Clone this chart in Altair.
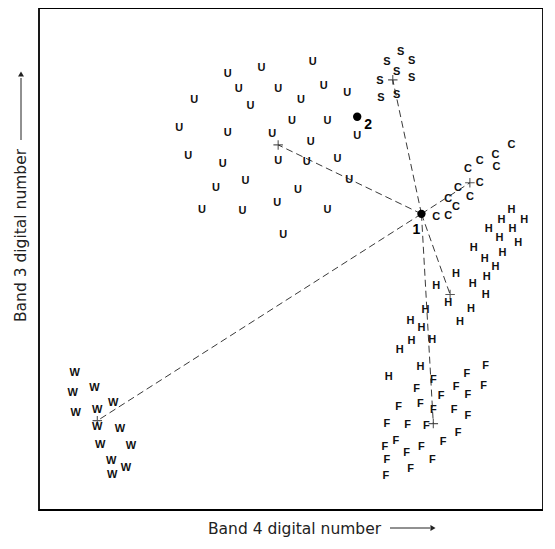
import altair as alt
import pandas as pd

# Letter positions (x to the right, y upwards)
U_x = [277, 191, 225, 202, 242, 288, 312, 157, 214, 265, 256, 292, 142, 191, 236, 275, 322, 151, 186, 242, 271, 302, 314, 179, 209, 262, 165, 206, 241, 292, 247]
U_y = [461, 449, 455, 434, 434, 437, 429, 422, 416, 422, 401, 401, 393, 388, 387, 379, 385, 365, 356, 359, 358, 362, 340, 332, 339, 330, 309, 308, 316, 309, 283]
S_x = [366, 352, 377, 362, 345, 377, 346, 362]
S_y = [472, 461, 462, 451, 442, 445, 424, 427]
C_x = [478, 462, 463, 446, 434, 446, 424, 436, 414, 422, 402, 414]
C_y = [376, 366, 353, 359, 351, 337, 332, 322, 320, 312, 302, 303]
H_x = [478, 468, 491, 455, 466, 479, 485, 440, 469, 451, 462, 453, 422, 402, 439, 452, 414, 437, 426, 391, 376, 387, 398, 377, 365, 386, 354]
H_y = [309, 299, 299, 289, 280, 289, 275, 270, 265, 259, 250, 240, 243, 231, 233, 221, 213, 207, 194, 206, 195, 187, 175, 174, 165, 147, 137]
F_x = [452, 433, 399, 450, 422, 382, 407, 434, 364, 386, 399, 420, 434, 352, 373, 392, 424, 361, 350, 409, 387, 372, 352, 398, 376, 351]
F_y = [148, 140, 134, 128, 127, 125, 117, 118, 106, 109, 103, 103, 97, 89, 88, 87, 79, 71, 65, 70, 65, 59, 52, 52, 42, 35]
W_x = [36, 34, 56, 37, 59, 75, 59, 82, 62, 93, 73, 88, 74]
W_y = [141, 121, 126, 100, 103, 110, 85, 83, 67, 66, 50, 43, 36]

# Class means (+) and the two unknown pixels
mean_cls = ["U", "S", "C", "H", "F", "W"]
mean_x = [242, 358, 436, 416, 399, 59]
mean_y = [376, 443, 337, 222, 89, 92]
pix_lab = ["1", "2"]
pix_x = [387, 322]
pix_y = [305, 405]

x_title = "Band 4 digital number"
y_title = "Band 3 digital number"

rows = []
for c, xv, yv in [("U", U_x, U_y), ("S", S_x, S_y), ("C", C_x, C_y),
                  ("H", H_x, H_y), ("F", F_x, F_y), ("W", W_x, W_y)]:
    for a, b in zip(xv, yv):
        rows.append({"x": a, "y": b, "cls": c})
letters = pd.DataFrame(rows)
means = pd.DataFrame({"cls": mean_cls, "x": mean_x, "y": mean_y})
lines = means.assign(x0=pix_x[0], y0=pix_y[0])
pix = pd.DataFrame({"lab": pix_lab, "x": pix_x, "y": pix_y})

xs = alt.Scale(domain=[0, 510], nice=False, zero=False)
ys = alt.Scale(domain=[0, 517], nice=False, zero=False)

xaxis = alt.Axis(
    title=x_title, domain=False, ticks=False, labels=False, grid=False,
    titleX=255, titleY=18, titleAlign="center", titleBaseline="middle",
    titleFont="DejaVu Sans", titleFontSize=15.5, titleFontWeight="normal", titleColor="#222")
yaxis = alt.Axis(
    title=y_title, domain=False, ticks=False, labels=False, grid=False,
    titleX=-19, titleY=227, titleAlign="center", titleBaseline="middle", titleAngle=270,
    titleFont="DejaVu Sans", titleFontSize=15.5, titleFontWeight="normal", titleColor="#222")

txt = alt.Chart(letters).mark_text(font="Liberation Sans", fontWeight="bold", fontSize=11,
                                   color="#111", align="center", baseline="middle").encode(
    x=alt.X("x:Q", scale=xs, axis=xaxis), y=alt.Y("y:Q", scale=ys, axis=yaxis), text="cls:N")

rules = alt.Chart(lines).mark_rule(color="#222", strokeWidth=0.9, strokeDash=[7, 4]).encode(
    x="x0:Q", y="y0:Q", x2="x:Q", y2="y:Q")

plus = alt.Chart(means).mark_point(shape="M-1,0L1,0M0,-1L0,1", size=90, stroke="#111",
                                   strokeWidth=1.1, filled=False).encode(x="x:Q", y="y:Q")

dots = alt.Chart(pix).mark_circle(size=70, color="black", opacity=1).encode(x="x:Q", y="y:Q")
lab1 = alt.Chart(pix).transform_filter(alt.datum.lab == "1").mark_text(
    font="Liberation Sans", fontWeight="bold", fontSize=14, color="black",
    dx=-5, dy=16, align="center", baseline="middle").encode(x="x:Q", y="y:Q", text="lab:N")
lab2 = alt.Chart(pix).transform_filter(alt.datum.lab == "2").mark_text(
    font="Liberation Sans", fontWeight="bold", fontSize=14, color="black",
    dx=11, dy=8, align="center", baseline="middle").encode(x="x:Q", y="y:Q", text="lab:N")

# axis-title arrows (decoration)
base = alt.Chart(pd.DataFrame({"k": [0]}))
xarr = base.mark_rule(color="#222", strokeWidth=1).encode(
    x=alt.value(351), x2=alt.value(391), y=alt.value(520))
xhead = base.mark_point(shape="triangle-right", filled=True, size=35, color="#222", opacity=1).encode(
    x=alt.value(394), y=alt.value(520))
yarr = base.mark_rule(color="#222", strokeWidth=1).encode(
    x=alt.value(-18), y=alt.value(132), y2=alt.value(70))
yhead = base.mark_point(shape="triangle-up", filled=True, size=35, color="#222", opacity=1).encode(
    x=alt.value(-18), y=alt.value(66))

chart = alt.layer(txt, rules, plus, dots, lab1, lab2, xarr, xhead, yarr, yhead).properties(
    width=504, height=502,
    autosize=alt.AutoSizeParams(type="none"),
    padding={"left": 31, "top": 0, "right": 0, "bottom": 27},
).configure_view(stroke="black", strokeWidth=1.8)

chart.save("out.html", embed_options={"renderer": "svg", "actions": False})
